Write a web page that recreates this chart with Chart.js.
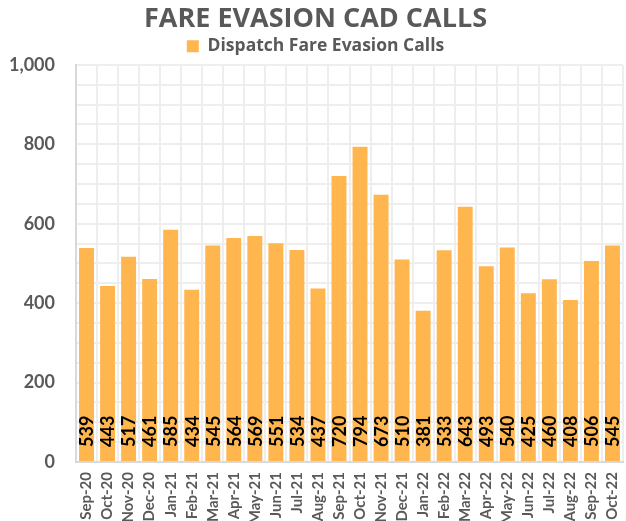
<!DOCTYPE html>
<html>
<head>
<meta charset="utf-8">
<script src="https://cdn.jsdelivr.net/npm/chart.js@4"></script>
<style>
  html, body { margin: 0; padding: 0; background: #fff; }
  #wrap { width: 626px; height: 521px; }
</style>
</head>
<body>
<div id="wrap"><canvas id="fare-chart" width="626" height="521"></canvas></div>
<script>
// FARE EVASION CAD CALLS
const months = ["Sep-20","Oct-20","Nov-20","Dec-20","Jan-21","Feb-21","Mar-21","Apr-21","May-21","Jun-21","Jul-21","Aug-21",
                "Sep-21","Oct-21","Nov-21","Dec-21","Jan-22","Feb-22","Mar-22","Apr-22","May-22","Jun-22","Jul-22","Aug-22","Sep-22","Oct-22"];
const calls = [539,443,517,461,585,434,545,564,569,551,534,437,720,794,673,510,381,533,643,493,540,425,460,408,506,545];
const yTicks = [0,200,400,600,800,1000];

// values written upright inside the bottom of each bar
const barValues = {
    id: "barValues",
    afterDatasetsDraw(chart) {
        const ctx = chart.ctx;
        const meta = chart.getDatasetMeta(0);
        ctx.save();
        ctx.font = "bold 18px Lato, 'Open Sans', sans-serif";
        ctx.fillStyle = "#000";
        ctx.textAlign = "left";
        ctx.textBaseline = "middle";
        meta.data.forEach(function(bar, i) {
            ctx.save();
            ctx.translate(bar.x + 1, bar.base - 14);
            ctx.rotate(-Math.PI / 2);
            ctx.fillText(String(calls[i]), 0, 0);
            ctx.restore();
        });
        ctx.restore();
    }
};

new Chart("fare-chart", {
    type: "bar",
    data: {
        labels: months,
        datasets: [
            {
                label: "Dispatch Fare Evasion Calls",
                data: calls,
                backgroundColor: "#FFB64F",
                borderWidth: 0,
                barPercentage: 0.71,
                categoryPercentage: 1.0
            }
        ]
    },
    options: {
        responsive: false,
        animation: false,
        layout: { padding: { left: 8, right: 3, bottom: 0, top: 3 } },
        plugins: {
            title: {
                display: true,
                text: "FARE EVASION CAD CALLS",
                color: "#595959",
                font: { family: "'Open Sans', sans-serif", size: 27, weight: "bold", lineHeight: 1.2 },
                padding: { top: 0, bottom: -4 }
            },
            legend: {
                labels: {
                    color: "#595959",
                    boxWidth: 12,
                    boxHeight: 12,
                    padding: 6,
                    font: { family: "'Open Sans', sans-serif", size: 17.5, weight: "bold" }
                }
            },
            tooltip: { enabled: false }
        },
        scales: {
            x: {
                grid: { color: "#eeeeee", lineWidth: 2, drawTicks: false },
                border: { color: "#d9d9d9", width: 2 },
                afterFit: function(scale) {
                    scale.paddingLeft = 0;
                    scale.paddingRight = 0;
                    scale.height = 59;
                },
                ticks: {
                    color: "#595959",
                    minRotation: 90,
                    maxRotation: 90,
                    padding: 10,
                    font: { family: "Lato, 'Open Sans', sans-serif", size: 15, weight: "bold" }
                }
            },
            y: {
                min: 0,
                max: 1000,
                grid: { color: "#eeeeee", lineWidth: 2, drawTicks: false },
                border: { color: "#d9d9d9", width: 2 },
                afterFit: function(scale) {
                    scale.width = 68;
                },
                ticks: {
                    stepSize: 50,
                    autoSkip: false,
                    color: "#595959",
                    padding: 21,
                    font: { family: "Lato, 'Open Sans', sans-serif", size: 18, weight: "bold", lineHeight: 1.85 },
                    callback: function(v) {
                        return yTicks.indexOf(v) >= 0 ? v.toLocaleString("en-US") : "";
                    }
                }
            }
        }
    },
    plugins: [barValues]
});
</script>
</body>
</html>
